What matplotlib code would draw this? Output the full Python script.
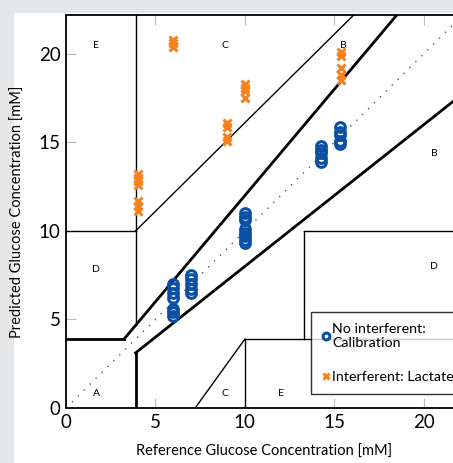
import matplotlib
matplotlib.use("Agg")
import matplotlib.pyplot as plt
from matplotlib.patches import Rectangle

# ---- data ----
calib_x = [6]*7 + [7]*5 + [10]*8 + [14.25]*5 + [15.3]*5
calib_y = [5.2, 5.4, 5.6, 6.2, 6.5, 6.8, 7.0,
           6.5, 6.7, 7.0, 7.3, 7.5,
           9.3, 9.5, 9.7, 9.9, 10.1, 10.6, 10.8, 11.0,
           13.9, 14.1, 14.4, 14.6, 14.8,
           14.9, 15.1, 15.4, 15.6, 15.9]
lact_x = [4.0]*7 + [6.0]*3 + [9.0]*4 + [10.0]*4 + [15.4]*5
lact_y = [11.1, 11.4, 11.7, 12.6, 12.8, 13.0, 13.2,
          20.4, 20.6, 20.8,
          15.1, 15.3, 15.9, 16.1,
          17.5, 17.9, 18.1, 18.3,
          18.5, 18.8, 19.2, 19.9, 20.1]
x_ticks = [0, 5, 10, 15, 20]
y_ticks = [0, 5, 10, 15, 20]
zone_labels = ["E", "C", "B", "B", "D", "D", "A", "C", "E"]
zone_pos = [(1.7, 20.5), (8.9, 20.5), (15.5, 20.5), (20.6, 14.4),
            (1.7, 7.8), (20.6, 8.0), (1.7, 0.8), (8.9, 0.8), (12.0, 0.8)]

W, H = 453, 463
fig = plt.figure(figsize=(W/100, H/100), dpi=100, facecolor="#e6e7e8")
bg = Rectangle((14/W, 0), 1, (H-13)/H, transform=fig.transFigure,
               facecolor="white", edgecolor="none", zorder=-10)
fig.add_artist(bg)
ax = fig.add_axes([66/W, (H-408)/H, 397/W, 393/H])
ax.set_facecolor("white")
ax.set_xlim(0, 22.2)
ax.set_ylim(0, 22.2)

c = 18.0
top = 22.2
lw_thick, lw_thin = 2.0, 1.0
k = "black"
ax.plot([0, top], [0, top], ls=(0, (1, 5)), color="#555555", lw=1.0, zorder=1)
# A zone boundaries (thick)
ax.plot([0, 58.33/c], [70/c, 70/c], color=k, lw=lw_thick)
ax.plot([58.33/c, top/1.2], [70/c, top], color=k, lw=lw_thick)
ax.plot([70/c, 70/c], [0, 56/c], color=k, lw=lw_thick)
ax.plot([70/c, top], [56/c, 0.8*top], color=k, lw=lw_thick)
# other zones (thin)
ax.plot([70/c, 70/c], [84/c, top], color=k, lw=lw_thin)
ax.plot([0, 70/c], [180/c, 180/c], color=k, lw=lw_thin)
ax.plot([70/c, top - 110/c], [180/c, top], color=k, lw=lw_thin)
ax.plot([180/c, 180/c], [0, 70/c], color=k, lw=lw_thin)
ax.plot([180/c, top], [70/c, 70/c], color=k, lw=lw_thin)
ax.plot([240/c, 240/c], [70/c, 180/c], color=k, lw=lw_thin)
ax.plot([240/c, top], [180/c, 180/c], color=k, lw=lw_thin)
ax.plot([130/c, 180/c], [0, 70/c], color=k, lw=lw_thin)

for t, (zx, zy) in zip(zone_labels, zone_pos):
    ax.text(zx, zy, t, fontsize=7.5, ha="center", va="center", family="Lato")

ax.plot(calib_x, calib_y, ls="none", marker="o", ms=7, mfc="none",
        mec="#0b4fa3", mew=2.2, label="No interferent:\nCalibration", zorder=3)
ax.plot(lact_x, lact_y, ls="none", marker="x", ms=6, mec="#f58220",
        mew=2.2, label="Interferent: Lactate", zorder=3)

ax.set_xticks(x_ticks)
ax.set_yticks(y_ticks)
ax.tick_params(direction="in", length=7, color="#bbbbbb", top=True,
               labelsize=13.5, pad=4)
for lab in ax.get_xticklabels() + ax.get_yticklabels():
    lab.set_family("Lato")
for s in ax.spines.values():
    s.set_linewidth(1.3)

ax.set_xlabel("Reference Glucose Concentration [mM]", fontsize=10.5,
              family="Lato", labelpad=10)
ax.set_ylabel("Predicted Glucose Concentration [mM]", fontsize=10.5,
              family="Lato", labelpad=10)

leg = ax.legend(loc="upper left", bbox_to_anchor=((311-66)/397, (408-312)/393),
                frameon=True, fancybox=False, edgecolor="black",
                handlelength=0.5, handletextpad=0.2,
                borderpad=0.8, borderaxespad=0, labelspacing=1.5, markerscale=0.7,
                prop={"family": "Lato", "size": 10.3})
leg.get_frame().set_linewidth(1.0)

fig.savefig("out.png", dpi=100, facecolor=fig.get_facecolor())
